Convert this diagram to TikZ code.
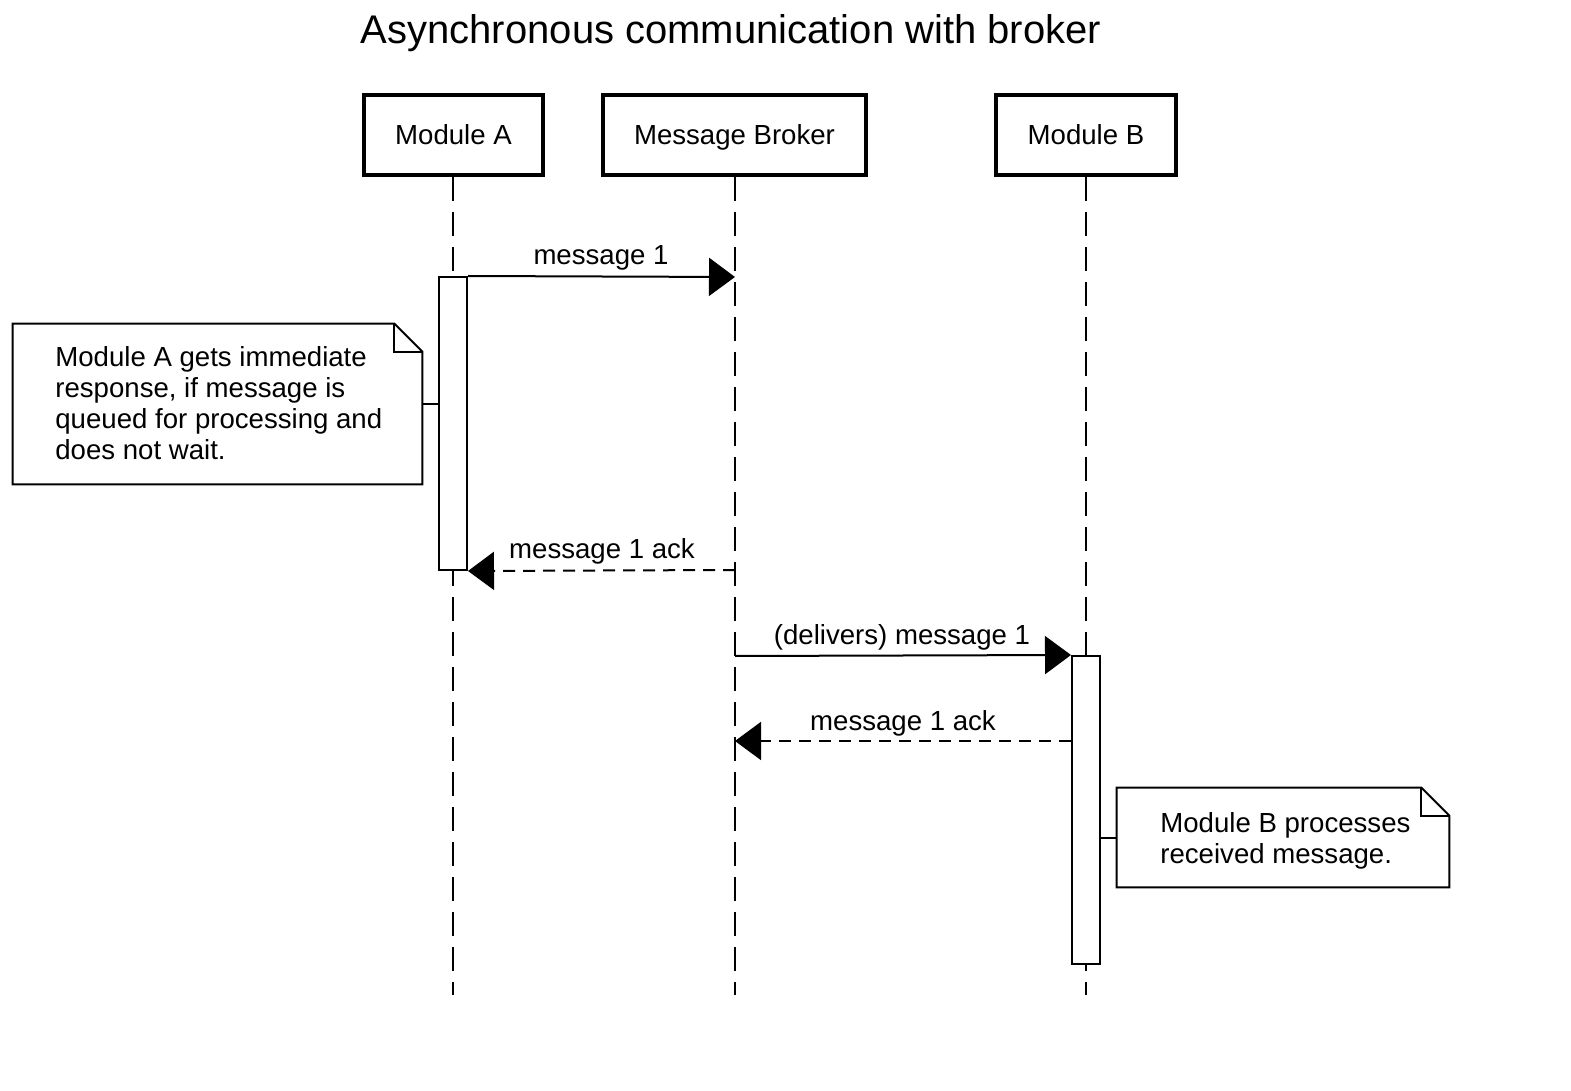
\documentclass[tikz,border=0pt]{standalone}
\usepackage{fontspec}
\setmainfont{Liberation Sans}
\usetikzlibrary{arrows.meta}
\begin{document}
\begin{tikzpicture}[x=0.5pt,y=-0.5pt,
  lbl/.style={font=\fontsize{13.8}{15.5}\selectfont, inner sep=0pt},
  actor/.style={draw, line width=2pt, inner sep=0pt, minimum height=40pt, fill=white, lbl, text height=10pt, text depth=0pt},
  lifeline/.style={line width=1.1pt, dash pattern=on 12pt off 5.5pt},
  activation/.style={draw, line width=1pt, fill=white, minimum width=14pt, inner sep=0pt},
  msg/.style={line width=1pt, -{Triangle[length=13pt, width=19pt]}},
  reply/.style={msg, dash pattern=on 6pt off 4pt},
  notebox/.style={draw=none, inner sep=0pt},
  noteline/.style={line width=1pt},
  notetext/.style={lbl, align=left, anchor=north west},
]
\useasboundingbox (0,0) rectangle (1571,1091);

% title
\node[font=\fontsize{20}{23}\selectfont, inner sep=0pt, anchor=base] (title) at (731,44) {Asynchronous communication with broker};

% actors
\node[actor, minimum width=89.5pt] (A) at (453.5,135) {Module A};
\node[actor, minimum width=131.5pt] (M) at (734.5,135) {Message Broker};
\node[actor, minimum width=90pt] (B) at (1086,135) {Module B};

% lifeline end points
\coordinate (Aend) at (453,995);
\coordinate (Mend) at (735,995);
\coordinate (Bend) at (1086,995);
\draw[lifeline] (A.south -| Aend) -- (Aend);
\draw[lifeline] (M.south -| Mend) -- (Mend);
\draw[lifeline] (B.south -| Bend) -- (Bend);

% activations
\node[activation, minimum height=146.5pt] (actA) at (453,423.5) {};
\node[activation, minimum height=154pt] (actB) at (1086,810) {};

% message coordinates on broker lifeline
\coordinate (m1) at (735,277);
\coordinate (m2) at (735,570);
\coordinate (m3) at (735,656);
\coordinate (m4) at (735,741);

% messages
\draw[msg] (actA.north east) -- (m1);
\node[lbl, anchor=base] (l1) at (601,265) {message 1};

\draw[reply] (m2) -- (actA.south east);
\node[lbl, anchor=base] (l2) at (602,559) {message 1 ack};

\draw[msg] (m3) -- (actB.north west);
\node[lbl, anchor=base] (l3) at (902,644) {(delivers) message 1};

\draw[reply] (actB.west |- m4) -- (m4);
\node[lbl, anchor=base] (l4) at (903,730) {message 1 ack};

% note A
\node[notebox, minimum width=204.5pt, minimum height=80pt] (noteA) at (217.5,404) {};
\draw[noteline] (noteA.south west) -- (noteA.south east) -- ([yshift=-14pt]noteA.north east) -- ([xshift=-14pt]noteA.north east) -- (noteA.north west) -- cycle;
\draw[noteline] ([xshift=-14pt]noteA.north east) -- ([xshift=-14pt,yshift=-14pt]noteA.north east) -- ([yshift=-14pt]noteA.north east);
\node[notetext] (tA) at (55,346) {Module A gets immediate\\response, if message is\\queued for processing and\\does not wait.};
\draw[noteline] (noteA.east) -- (actA.west |- noteA.east);

% note B
\node[notebox, minimum width=166pt, minimum height=49.5pt] (noteB) at (1283,837.5) {};
\draw[noteline] (noteB.south west) -- (noteB.south east) -- ([yshift=-14pt]noteB.north east) -- ([xshift=-14pt]noteB.north east) -- (noteB.north west) -- cycle;
\draw[noteline] ([xshift=-14pt]noteB.north east) -- ([xshift=-14pt,yshift=-14pt]noteB.north east) -- ([yshift=-14pt]noteB.north east);
\node[notetext] (tB) at (1160,812) {Module B processes\\received message.};
\draw[noteline] (actB.east |- noteB.west) -- (noteB.west);
\end{tikzpicture}
\end{document}
